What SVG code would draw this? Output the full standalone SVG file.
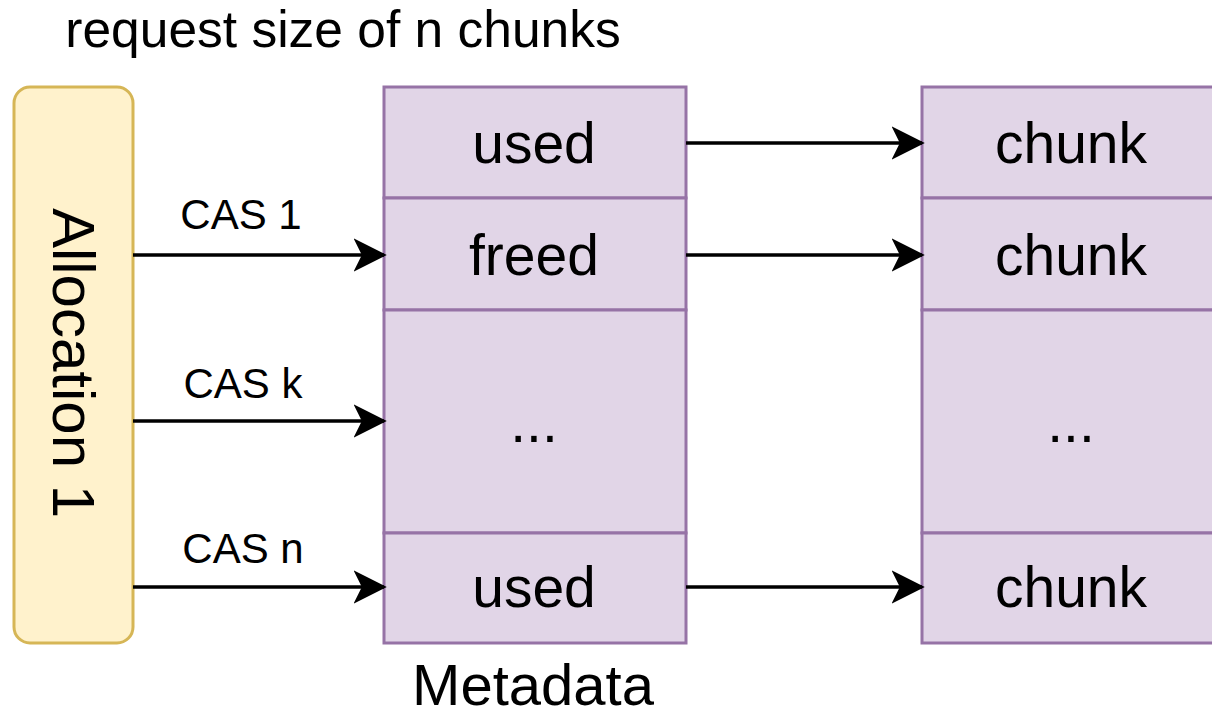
<svg xmlns="http://www.w3.org/2000/svg" width="1212" height="718" viewBox="0 0 1212 718">
  <style>
    .alloc { fill: #fff2cc; stroke: #d6b656; stroke-width: 3; }
    .cell { fill: #e1d5e7; stroke: #9673a6; stroke-width: 3; }
    .edge { stroke: #000; stroke-width: 3.5; fill: none; marker-end: url(#arrow); }
    text { font-family: "Liberation Sans", Arial, Helvetica, sans-serif; fill: #000; }
    .big { font-size: 57px; text-anchor: middle; }
    .lbl { font-size: 42px; text-anchor: middle; }
  </style>
  <defs>
    <marker id="arrow" viewBox="0 0 12 12" refX="11" refY="6" markerWidth="9.5" markerHeight="9.5" markerUnits="strokeWidth" orient="auto">
      <path d="M0,0 L12,6 L0,12 L3,6 Z" fill="#000"/>
    </marker>
  </defs>

  <text x="343" y="47" style="font-size:51.5px" text-anchor="middle">request size of n chunks</text>

  <g id="allocation">
    <rect class="alloc" x="14" y="87" width="119" height="556" rx="16" ry="16"/>
    <text class="big" style="font-size:60px" transform="translate(53 363) rotate(90)" x="0" y="0">Allocation 1</text>
  </g>

  <g id="metadata">
    <rect class="cell" x="384" y="87" width="302" height="111"/>
    <text class="big" x="534" y="163">used</text>
    <rect class="cell" x="384" y="198" width="302" height="112"/>
    <text class="big" x="534" y="275">freed</text>
    <rect class="cell" x="384" y="310" width="302" height="223"/>
    <text class="big" x="534" y="442">...</text>
    <rect class="cell" x="384" y="533" width="302" height="110"/>
    <text class="big" x="534" y="607">used</text>
    <text class="big" style="font-size:58px" x="533" y="705">Metadata</text>
  </g>

  <g id="chunks">
    <rect class="cell" x="922" y="87" width="302" height="111"/>
    <text class="big" x="1071" y="163">chunk</text>
    <rect class="cell" x="922" y="198" width="302" height="112"/>
    <text class="big" x="1071" y="275">chunk</text>
    <rect class="cell" x="922" y="310" width="302" height="223"/>
    <text class="big" x="1071" y="442">...</text>
    <rect class="cell" x="922" y="533" width="302" height="110"/>
    <text class="big" x="1071" y="607">chunk</text>
  </g>

  <g id="connectors">
    <line class="edge" x1="133" y1="255" x2="384" y2="255"/>
    <line class="edge" x1="133" y1="421" x2="384" y2="421"/>
    <line class="edge" x1="133" y1="587" x2="384" y2="587"/>
    <line class="edge" x1="686" y1="143" x2="922" y2="143"/>
    <line class="edge" x1="686" y1="255" x2="922" y2="255"/>
    <line class="edge" x1="686" y1="587" x2="922" y2="587"/>
    <text class="lbl" x="241" y="229">CAS 1</text>
    <text class="lbl" x="243" y="398">CAS k</text>
    <text class="lbl" x="243" y="563">CAS n</text>
  </g>
</svg>
